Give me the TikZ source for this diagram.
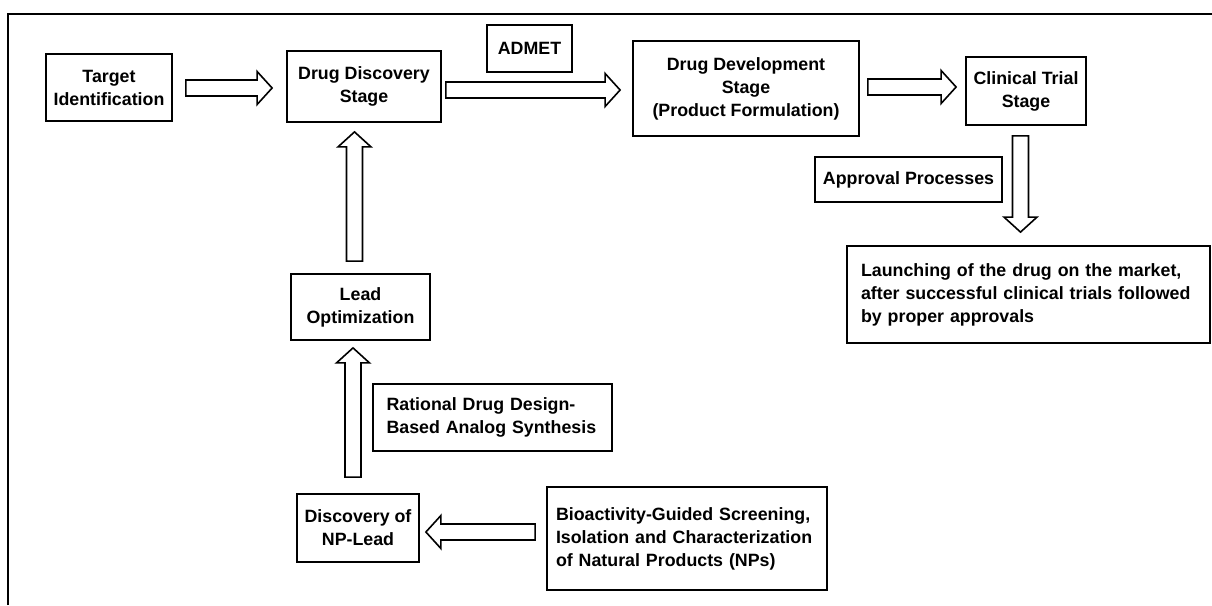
\documentclass[tikz,border=0pt]{standalone}
\usepackage{fontspec}
\setmainfont{Liberation Sans}
\usetikzlibrary{calc}
\newcommand\bxfont{\fontsize{17.8}{23}\selectfont\bfseries}
\tikzset{
  box/.style={draw, line width=1.8pt, font=\bxfont, align=center, inner sep=0pt},
  lbox/.style={draw, line width=1.8pt, font=\bxfont, align=left, inner ysep=0pt},
  blockarrowstyle/.style={draw, line width=1.6pt, line join=miter, fill=white},
}
\newcommand\blockarrow[2]{%
  \path let \p1=(#1), \p2=(#2),
        \n1={veclen(\x2-\x1,\y2-\y1)},
        \n2={atan2(\y2-\y1,\x2-\x1)} in
    \pgfextra{\xdef\BAlen{\n1}\xdef\BAang{\n2}\xdef\BAsx{\x1}\xdef\BAsy{\y1}};
  \draw[blockarrowstyle, shift={(\BAsx,\BAsy)}, rotate=\BAang]
     (0,-8) -- (\BAlen-15,-8) -- (\BAlen-15,-16.5) -- (\BAlen,0)
     -- (\BAlen-15,16.5) -- (\BAlen-15,8) -- (0,8) -- cycle;
}
\begin{document}
\begin{tikzpicture}[x=1pt, y=-1pt]
\useasboundingbox (0,0) rectangle (1212,605);
% outer frame
\draw[line width=2pt] (8,605) -- (8,14) -- (1212,14);

% nodes
\node[box, minimum width=126pt, minimum height=67pt] (target) at (109,87.5) {Target\\Identification};
\node[box, minimum width=154pt, minimum height=71pt] (dd) at (364,86.5) {Drug Discovery\\Stage};
\node[box, minimum width=85pt, minimum height=47pt] (admet) at (529.5,48.5) {ADMET};
\node[box, minimum width=226pt, minimum height=95pt] (dev) at (746,88.5) {Drug Development\\Stage\\(Product Formulation)};
\node[box, minimum width=120pt, minimum height=68pt] (clin) at (1026,91) {Clinical Trial\\Stage};
\node[box, minimum width=187pt, minimum height=45pt] (approval) at (908.5,179.5) {Approval Processes};
\node[lbox, text width=335pt, inner xsep=14pt, minimum height=97pt] (launch) at (1028.5,294.5)
  {Launching of the drug on the market,\\after successful clinical trials followed\\by proper approvals};
\node[box, minimum width=139pt, minimum height=66pt] (lead) at (360.5,307) {Lead\\Optimization};
\node[lbox, text width=212pt, inner xsep=13.5pt, minimum height=67pt] (rational) at (492.5,417.5)
  {Rational Drug Design-\\Based Analog Synthesis};
\node[box, minimum width=122pt, minimum height=68pt] (disc) at (358,528) {Discovery of\\NP-Lead};
\node[lbox, text width=262pt, inner xsep=9pt, minimum height=103pt] (bio) at (687,538.5)
  {Bioactivity-Guided Screening,\\Isolation and Characterization\\of Natural Products (NPs)};

% arrow end points
\coordinate (a1s) at ($(target.east)+(13,0.5)$);
\coordinate (a1e) at ($(dd.west |- a1s)+(-14,0)$);
\coordinate (a2s) at ($(dd.east)+(4,3.5)$);
\coordinate (a2e) at ($(dev.west |- a2s)+(-12,0)$);
\coordinate (a3s) at ($(dev.east)+(8,-1.5)$);
\coordinate (a3e) at ($(clin.west |- a3s)+(-9,0)$);
\coordinate (a4s) at ($(clin.south)+(-5.5,10)$);
\coordinate (a4e) at ($(launch.north -| a4s)+(0,-13)$);
\coordinate (a5s) at ($(lead.north)+(-6,-12)$);
\coordinate (a5e) at ($(dd.south -| a5s)+(0,9)$);
\coordinate (a6s) at ($(disc.north)+(-5,-16)$);
\coordinate (a6e) at ($(lead.south -| a6s)+(0,7)$);
\coordinate (a7s) at ($(bio.west)+(-11,-6.5)$);
\coordinate (a7e) at ($(disc.east |- a7s)+(6,0)$);

\blockarrow{a1s}{a1e}
\blockarrow{a2s}{a2e}
\blockarrow{a3s}{a3e}
\blockarrow{a4s}{a4e}
\blockarrow{a5s}{a5e}
\blockarrow{a6s}{a6e}
\blockarrow{a7s}{a7e}
\end{tikzpicture}
\end{document}
